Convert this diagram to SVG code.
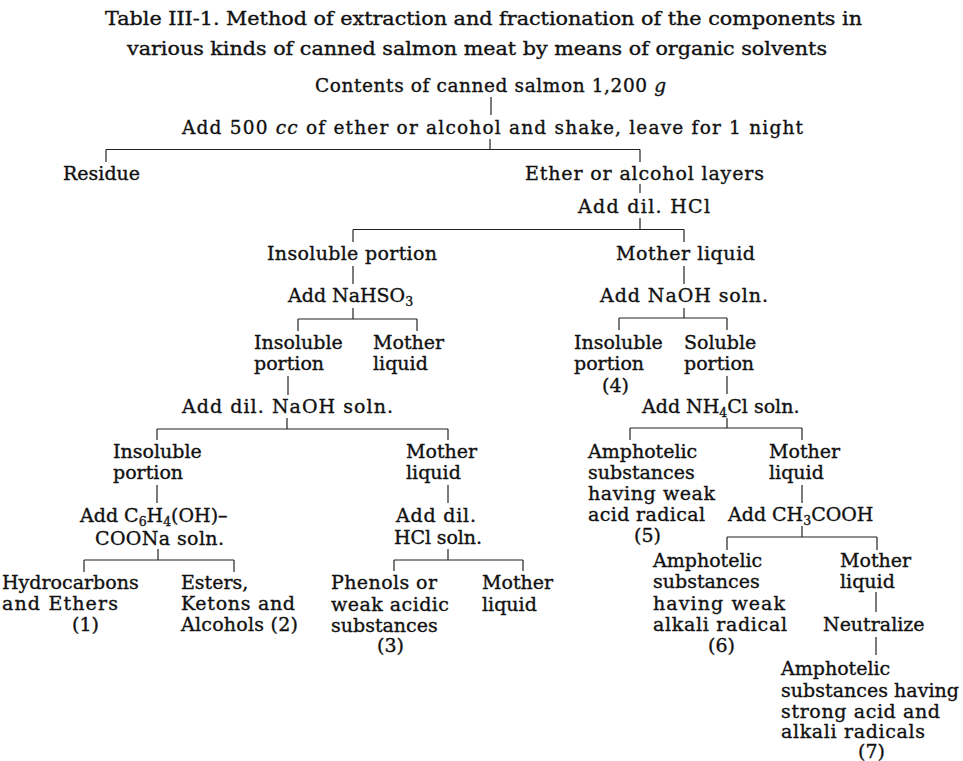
<svg xmlns="http://www.w3.org/2000/svg" width="963" height="761" viewBox="0 0 963 761">
<style>
text{font-family:"DejaVu Serif","Liberation Serif",serif;fill:#111;stroke:#111;stroke-width:0.35;}
.h{font-size:18.5px;}
.t{font-size:19px;}
.s{font-size:12.5px;baseline-shift:-3.5px;}
.i{font-style:italic;}
#connectors line{stroke:#222;stroke-width:1.2;}
</style>
<rect width="963" height="761" fill="#fff"/>
<g id="title">
<text class="h" x="105" y="25" textLength="757" lengthAdjust="spacingAndGlyphs">Table III-1.  Method of extraction and fractionation of the components in</text>
<text class="h" x="127" y="55" textLength="700" lengthAdjust="spacingAndGlyphs">various kinds of canned salmon meat by means of organic solvents</text>
</g>
<g id="n-contents"><text class="h" x="315" y="92" textLength="351">Contents of canned salmon 1,200 <tspan class="i">g</tspan></text></g>
<g id="n-add500"><text class="h" x="182" y="134" textLength="621">Add 500 <tspan class="i">cc</tspan> of ether or alcohol and shake, leave for 1 night</text></g>
<g id="n-residue"><text class="t" x="63" y="180">Residue</text></g>
<g id="n-ether"><text class="t" x="525" y="180" textLength="239">Ether or alcohol layers</text></g>
<g id="n-hcl"><text class="t" x="578" y="213" textLength="132">Add dil. HCl</text></g>
<g id="n-insol1"><text class="t" x="267" y="260" textLength="170">Insoluble portion</text></g>
<g id="n-mother1"><text class="t" x="616" y="260" textLength="139">Mother liquid</text></g>
<g id="n-nahso3"><text class="t" x="288" y="302">Add NaHSO<tspan class="s">3</tspan></text></g>
<g id="n-naoh1"><text class="t" x="600" y="302" textLength="168">Add NaOH soln.</text></g>
<g id="n-insol2"><text class="t" x="254" y="349">Insoluble</text><text class="t" x="254" y="370">portion</text></g>
<g id="n-mother2"><text class="t" x="373" y="349">Mother</text><text class="t" x="373" y="370">liquid</text></g>
<g id="n-insol4"><text class="t" x="574" y="349">Insoluble</text><text class="t" x="574" y="370">portion</text><text class="t" x="602" y="392">(4)</text></g>
<g id="n-soluble"><text class="t" x="684" y="349">Soluble</text><text class="t" x="684" y="370">portion</text></g>
<g id="n-naoh2"><text class="t" x="182" y="413" textLength="211">Add dil. NaOH soln.</text></g>
<g id="n-nh4cl"><text class="t" x="642" y="413">Add NH<tspan class="s">4</tspan>Cl soln.</text></g>
<g id="n-insol3"><text class="t" x="113" y="458">Insoluble</text><text class="t" x="113" y="479">portion</text></g>
<g id="n-mother3"><text class="t" x="406" y="458">Mother</text><text class="t" x="406" y="479">liquid</text></g>
<g id="n-amph5"><text class="t" x="588" y="458">Amphotelic</text><text class="t" x="588" y="479">substances</text><text class="t" x="588" y="500" textLength="127">having weak</text><text class="t" x="588" y="521" textLength="117">acid radical</text><text class="t" x="634" y="542">(5)</text></g>
<g id="n-mother5"><text class="t" x="769" y="458">Mother</text><text class="t" x="769" y="479">liquid</text></g>
<g id="n-salicyl"><text class="t" x="80" y="522">Add C<tspan class="s">6</tspan>H<tspan class="s">4</tspan>(OH)–</text><text class="t" x="95" y="545" textLength="129">COONa soln.</text></g>
<g id="n-hcl2"><text class="t" x="396" y="522" textLength="80">Add dil.</text><text class="t" x="394" y="544" textLength="88">HCl soln.</text></g>
<g id="n-ch3cooh"><text class="t" x="728" y="521">Add CH<tspan class="s">3</tspan>COOH</text></g>
<g id="n-hydro"><text class="t" x="2" y="589">Hydrocarbons</text><text class="t" x="2" y="610" textLength="116">and Ethers</text><text class="t" x="72" y="631">(1)</text></g>
<g id="n-esters"><text class="t" x="181" y="589">Esters,</text><text class="t" x="181" y="610" textLength="114">Ketons and</text><text class="t" x="181" y="631" textLength="117">Alcohols (2)</text></g>
<g id="n-phenols"><text class="t" x="331" y="589" textLength="106">Phenols or</text><text class="t" x="331" y="611" textLength="118">weak acidic</text><text class="t" x="331" y="632">substances</text><text class="t" x="377" y="652">(3)</text></g>
<g id="n-mother4"><text class="t" x="482" y="589">Mother</text><text class="t" x="482" y="611">liquid</text></g>
<g id="n-amph6"><text class="t" x="653" y="567">Amphotelic</text><text class="t" x="653" y="588">substances</text><text class="t" x="653" y="610" textLength="132">having weak</text><text class="t" x="653" y="631" textLength="134">alkali radical</text><text class="t" x="708" y="652">(6)</text></g>
<g id="n-mother6"><text class="t" x="840" y="567">Mother</text><text class="t" x="840" y="588">liquid</text></g>
<g id="n-neutral"><text class="t" x="823" y="631">Neutralize</text></g>
<g id="n-amph7"><text class="t" x="781" y="675">Amphotelic</text><text class="t" x="781" y="697" textLength="178">substances having</text><text class="t" x="781" y="718" textLength="159">strong acid and</text><text class="t" x="781" y="738" textLength="144">alkali radicals</text><text class="t" x="858" y="758">(7)</text></g>
<g id="connectors">
<line x1="491" y1="97" x2="491" y2="115"/>
<line x1="490" y1="139" x2="490" y2="149.5"/>
<line x1="106" y1="149.5" x2="640" y2="149.5"/>
<line x1="106" y1="149.5" x2="106" y2="162"/>
<line x1="640" y1="149.5" x2="640" y2="162"/>
<line x1="640" y1="184" x2="640" y2="193"/>
<line x1="640" y1="218" x2="640" y2="229.5"/>
<line x1="353" y1="229.5" x2="684" y2="229.5"/>
<line x1="353" y1="229.5" x2="353" y2="242"/>
<line x1="684" y1="229.5" x2="684" y2="242"/>
<line x1="353" y1="266" x2="353" y2="284"/>
<line x1="684" y1="266" x2="684" y2="284"/>
<line x1="353" y1="308" x2="353" y2="319"/>
<line x1="298" y1="319" x2="417" y2="319"/>
<line x1="298" y1="319" x2="298" y2="331"/>
<line x1="417" y1="319" x2="417" y2="331"/>
<line x1="684" y1="308" x2="684" y2="318"/>
<line x1="619" y1="318" x2="727" y2="318"/>
<line x1="619" y1="318" x2="619" y2="330"/>
<line x1="727" y1="318" x2="727" y2="330"/>
<line x1="288" y1="376" x2="288" y2="395"/>
<line x1="727" y1="376" x2="727" y2="394"/>
<line x1="287" y1="418" x2="287" y2="429"/>
<line x1="157" y1="429" x2="448" y2="429"/>
<line x1="157" y1="429" x2="157" y2="440"/>
<line x1="448" y1="429" x2="448" y2="440"/>
<line x1="727" y1="418" x2="727" y2="428"/>
<line x1="630" y1="428" x2="802" y2="428"/>
<line x1="630" y1="428" x2="630" y2="440"/>
<line x1="802" y1="428" x2="802" y2="440"/>
<line x1="157" y1="485" x2="157" y2="503"/>
<line x1="448" y1="485" x2="448" y2="503"/>
<line x1="802" y1="485" x2="802" y2="503"/>
<line x1="802" y1="526" x2="802" y2="537"/>
<line x1="727" y1="537" x2="877" y2="537"/>
<line x1="727" y1="537" x2="727" y2="550"/>
<line x1="877" y1="537" x2="877" y2="550"/>
<line x1="158" y1="549" x2="158" y2="560"/>
<line x1="84" y1="560" x2="234" y2="560"/>
<line x1="84" y1="560" x2="84" y2="572"/>
<line x1="234" y1="560" x2="234" y2="572"/>
<line x1="448" y1="549" x2="448" y2="560"/>
<line x1="394" y1="560" x2="523" y2="560"/>
<line x1="394" y1="560" x2="394" y2="571"/>
<line x1="523" y1="560" x2="523" y2="571"/>
<line x1="876" y1="592" x2="876" y2="612"/>
<line x1="876" y1="637" x2="876" y2="655"/>
</g>
</svg>
